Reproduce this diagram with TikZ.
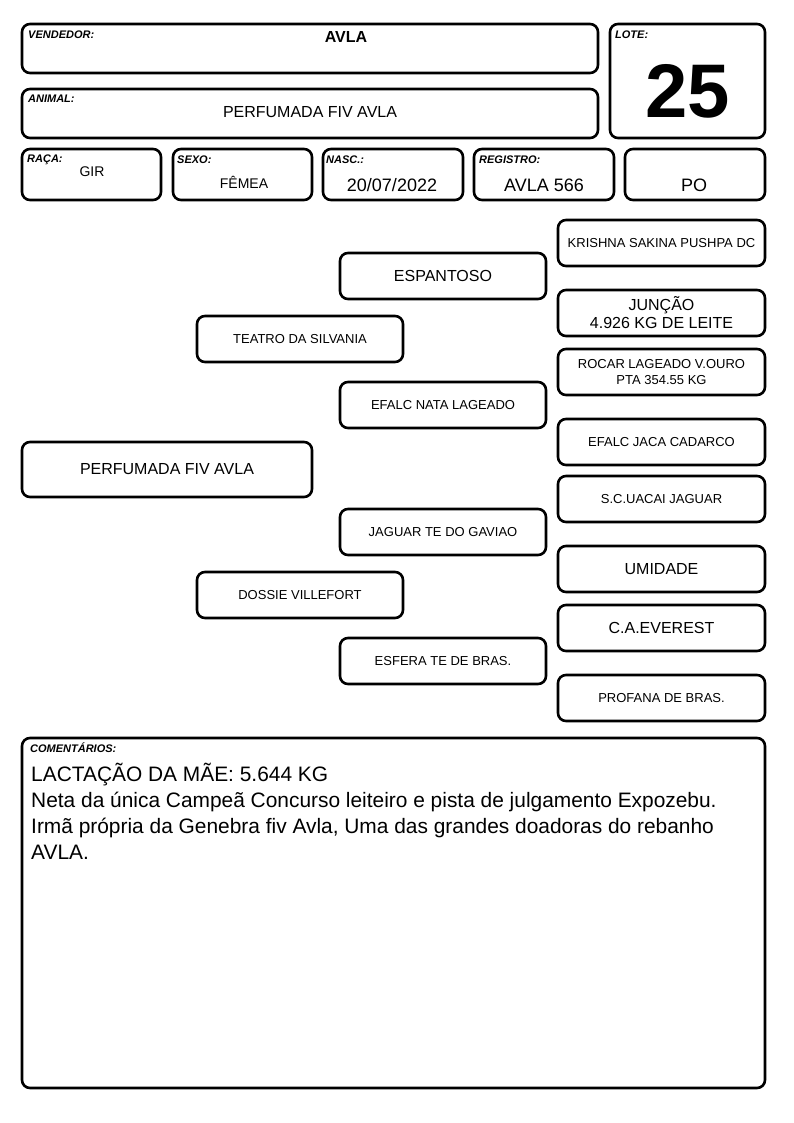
\documentclass[tikz,border=0pt]{standalone}
\usepackage{fontspec}
\setmainfont{Liberation Sans}
\newcommand\fs[1]{\fontsize{#1}{#1}\selectfont}
\newcommand\bx[7][]{\node[box,#1,minimum width={(#5-#3)*1pt},minimum height={(#6-#4)*1pt}] (#2) at ({(#3+#5)/2},{(#4+#6)/2}) {#7};}
\tikzset{
  box/.style={draw, line width=2.6pt, rounded corners=8pt, inner sep=0pt, align=center},
  lbl/.style={anchor=base west, inner sep=0pt, font=\fontsize{11}{12}\selectfont\bfseries\itshape},
  val/.style={anchor=base, inner sep=0pt},
  ped/.style={font=\fs{13}},
  pedb/.style={font=\fs{16}},
  com/.style={anchor=base west,inner sep=0pt,font=\fs{20.9}}
}
\begin{document}
\begin{tikzpicture}[x=1pt,y=-1pt]
\useasboundingbox (0,0) rectangle (794,1123);
% header
\bx{vend}{22}{24}{598}{73}{}
\bx{anim}{22}{89}{598}{138}{}
\bx{lote}{610}{24}{765}{138}{}
\bx{raca}{22}{149}{161}{200}{}
\bx{sexo}{173}{149}{312}{200}{}
\bx{nasc}{323}{149}{463}{200}{}
\bx{reg}{474}{149}{614}{200}{}
\bx{cat}{625}{149}{765}{200}{}
\node[lbl] (lvend) at (28,39) {VENDEDOR:};
\node[val,font=\fs{16}\bfseries] (tvend) at (346,43) {AVLA};
\node[lbl] (lanim) at (28,103) {ANIMAL:};
\node[val,font=\fs{16}] (tanim) at (310,118) {PERFUMADA FIV AVLA};
\node[lbl] (llote) at (615,39) {LOTE:};
\node[val,font=\fs{76}\bfseries] (tlote) at (688,118) {25};
\node[lbl] (lraca) at (27,163) {RAÇA:};
\node[val,font=\fs{14}] (traca) at (92,177) {GIR};
\node[lbl] (lsexo) at (177,164) {SEXO:};
\node[val,font=\fs{14}] (tsexo) at (244,189) {FÊMEA};
\node[lbl] (lnasc) at (326,164) {NASC.:};
\node[val,font=\fs{18}] (tnasc) at (392,192) {20/07/2022};
\node[lbl] (lreg) at (479,164) {REGISTRO:};
\node[val,font=\fs{18}] (treg) at (544,192) {AVLA 566};
\node[val,font=\fs{18}] (tcat) at (694,192) {PO};
% pedigree
\bx[pedb]{p0}{22}{442}{312}{497}{PERFUMADA FIV AVLA}
\bx[ped]{p1}{197}{316}{403}{362}{TEATRO DA SILVANIA}
\bx[ped]{p2}{197}{572}{403}{618}{DOSSIE VILLEFORT}
\bx[pedb]{p11}{340}{253}{546}{299}{ESPANTOSO}
\bx[ped]{p12}{340}{382}{546}{428}{EFALC NATA LAGEADO}
\bx[ped]{p21}{340}{509}{546}{555}{JAGUAR TE DO GAVIAO}
\bx[ped]{p22}{340}{638}{546}{684}{ESFERA TE DE BRAS.}
\bx[ped]{p111}{558}{220}{765}{266}{KRISHNA SAKINA PUSHPA DC}
\bx[pedb]{p112}{558}{290}{765}{336}{JUNÇÃO\\[2pt]4.926 KG DE LEITE}
\bx[ped]{p121}{558}{349}{765}{395}{ROCAR LAGEADO V.OURO\\[3pt]PTA 354.55 KG}
\bx[ped]{p122}{558}{419}{765}{465}{EFALC JACA CADARCO}
\bx[ped]{p211}{558}{476}{765}{522}{S.C.UACAI JAGUAR}
\bx[pedb]{p212}{558}{546}{765}{592}{UMIDADE}
\bx[pedb]{p221}{558}{605}{765}{651}{C.A.EVEREST}
\bx[ped]{p222}{558}{675}{765}{721}{PROFANA DE BRAS.}
% comments
\bx{comb}{22}{738}{765}{1088}{}
\node[lbl] (lcom) at (30,752) {COMENTÁRIOS:};
\node[com] (c1) at (31,781) {LACTAÇÃO DA MÃE: 5.644 KG};
\node[com] (c2) at (31,807) {Neta da única Campeã Concurso leiteiro e pista de julgamento Expozebu.};
\node[com] (c3) at (31,833) {Irmã própria da Genebra fiv Avla, Uma das grandes doadoras do rebanho};
\node[com] (c4) at (31,859) {AVLA.};
\end{tikzpicture}
\end{document}
